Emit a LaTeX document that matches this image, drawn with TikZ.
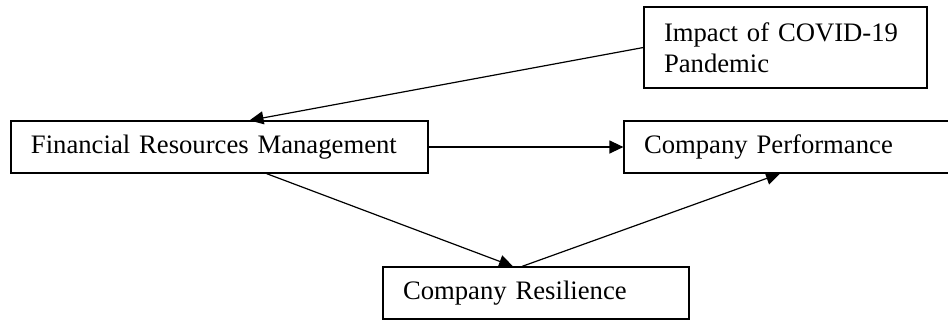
\documentclass[tikz,border=0pt]{standalone}
\usepackage{fontspec}
\setmainfont{Liberation Serif}
\usetikzlibrary{calc, positioning, arrows.meta}
\newlength\px
\setlength\px{0.75pt}

\begin{document}
\begin{tikzpicture}[x=0.75pt, y=-0.75pt,
  box/.style={draw, line width=0.9pt, rectangle, align=left, inner xsep=20\px, inner ysep=0pt,
    font=\fontsize{20}{23}\selectfont},
  arr/.style={line width=0.9pt, -{Triangle[length=10.5pt, width=9.75pt]}}]
\useasboundingbox (0,0) rectangle (948,322);

% Boxes
\node[box, text width=243\px, minimum height=81\px] (impact) at (785.5,47.5) {Impact of COVID-19\\Pandemic};
\node[box, text width=377\px, minimum height=52\px] (frm) at (219.5,147) {Financial Resources Management};
\node[box, text width=286\px, minimum height=52\px] (perf) at (787,147) {Company Performance};
\node[box, text width=266\px, minimum height=52\px] (resil) at (536,293) {Company Resilience};

% Arrows
\draw[arr] (impact.west) -- ([xshift=22.5pt]frm.north);
\draw[arr] (frm.east) -- (perf.west);
\draw[arr] ([xshift=35.25pt]frm.south) -- ([xshift=-17.25pt]resil.north);
\draw[arr] ([xshift=-10.5pt]resil.north) -- ([xshift=-5.25pt]perf.south);
\end{tikzpicture}
\end{document}
